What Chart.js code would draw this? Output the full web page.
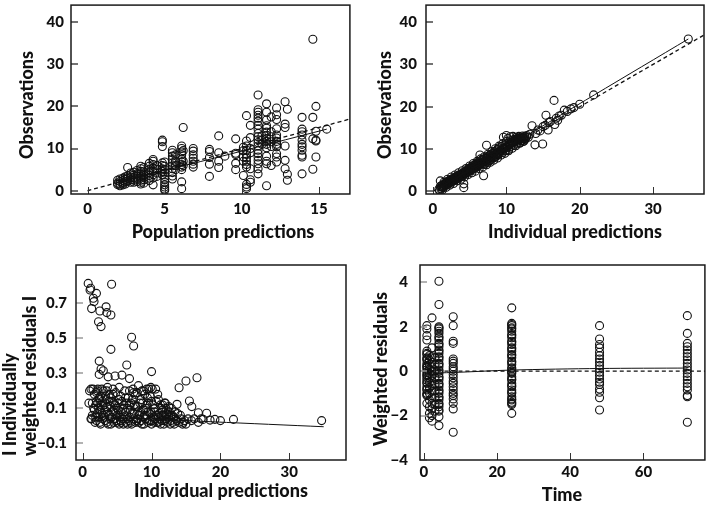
<!DOCTYPE html>
<html>
<head>
<meta charset="utf-8">
<script src="https://cdn.jsdelivr.net/npm/chart.js@4.4.1/dist/chart.umd.min.js"></script>
<style>
  body { margin: 0; background: #ffffff; }
  #wrap { position: relative; width: 710px; height: 507px; }
  canvas { position: absolute; }
</style>
</head>
<body>
<div id="wrap">
  <canvas id="popChart" width="355" height="250" style="left:0;top:0"></canvas>
  <canvas id="ipredChart" width="355" height="250" style="left:355px;top:0"></canvas>
  <canvas id="iwresChart" width="355" height="257" style="left:0;top:250px"></canvas>
  <canvas id="wresChart" width="355" height="257" style="left:355px;top:250px"></canvas>
</div>
<script>
// ---- top left: population predictions vs observations (columns of PRED)
const popPredColumns = [1.95, 2.1, 2.3, 2.45, 2.6, 2.8, 3.0, 3.2, 3.45, 3.65, 4.0, 4.25, 4.5, 4.85, 5.0, 5.5, 5.7, 6.1, 6.2, 6.85, 7.9, 8.5, 8.9, 9.6, 10.1, 10.3, 10.55, 11.05, 11.3, 11.6, 11.9, 12.25, 12.8, 12.95, 13.9, 14.6, 14.8, 15.5];
const popObsByColumn = [
  [2.5, 1.8, 1.5],
  [2.2, 1.6, 2.8, 1.2],
  [3.0, 2.4, 1.8, 1.4, 2.0],
  [3.3, 2.7, 2.1, 1.6],
  [3.5, 2.9, 2.3, 5.5],
  [3.8, 3.2, 2.6, 2.0, 4.2],
  [4.4, 3.7, 3.1, 2.5, 2.0],
  [4.8, 4.0, 3.4, 2.8, 2.2],
  [5.8, 5.2, 4.6, 4.0, 3.5, 3.0, 2.5, 2.0, 1.6],
  [5.5, 4.5, 3.8, 3.2, 2.6, 1.8],
  [6.5, 5.8, 5.0, 4.3, 3.6, 3.0, 2.4],
  [7.4, 7.0, 6.2, 5.3, 4.6, 3.8, 3.0, 1.4],
  [6.0, 5.0, 4.2, 3.4],
  [12.0, 11.6, 10.5, 6.6, 6.0, 5.2, 4.6, 3.8],
  [6.8, 5.8, 5.0, 4.2, 3.4, 2.7, 2.0, 1.4, 0.9, 0.4, 0.1],
  [9.6, 9.0, 8.2, 7.4, 6.6, 5.9, 5.2, 4.3, 3.5, 2.8],
  [8.5, 7.0, 6.0, 5.0],
  [10.6, 10.0, 9.2, 8.5, 7.5, 6.8, 6.2, 5.6, 5.0, 2.1, 0.5],
  [15.0, 9.5, 7.0, 6.0],
  [10.0, 9.4, 8.5, 7.7, 7.0, 6.3, 5.6],
  [9.8, 9.3, 7.9, 6.3, 3.4],
  [13.0, 9.0, 7.0, 5.5],
  [8.2],
  [12.3, 8.9, 8.6, 6.5, 5.0],
  [10.3, 9.5, 8.0, 7.0, 3.6],
  [17.8, 11.8, 10.6, 9.6, 8.6, 7.8, 7.0, 6.2, 5.6, 1.5, 0.9, 0.5],
  [15.5, 12.6, 10.0, 9.0, 5.2, 2.6, 2.0],
  [22.7, 19.2, 18.6, 17.9, 17.2, 16.5, 15.5, 14.6, 13.6, 12.8, 12.1, 11.4, 10.6, 9.6, 8.8, 8.0, 7.2, 6.4, 5.2, 4.0],
  [13.0, 12.0, 11.0],
  [20.6, 18.6, 16.8, 15.4, 14.8, 13.9, 13.1, 12.4, 11.7, 11.0, 10.2, 8.2, 7.0, 6.4, 1.2],
  [17.5, 14.0, 12.8, 11.6, 10.5, 6.0],
  [19.6, 18.0, 16.9, 14.7, 13.2, 12.5, 11.7, 11.0, 10.4, 8.8, 8.0, 6.8],
  [21.1, 15.8, 15.0, 10.6, 7.2, 5.2],
  [19.3, 3.9, 2.5],
  [17.4, 14.6, 14.0, 13.2, 12.0, 11.0, 10.4, 9.6, 8.4, 8.0, 4.0],
  [35.9, 17.4, 12.3, 5.1],
  [20.0, 14.1, 12.0, 11.8, 8.0],
  [14.6]
];
const popSmooth = [[2, 2.2], [3.5, 3.6], [5.5, 5.3], [7.3, 6.9], [10, 9.4], [12, 11.3], [15.5, 14.6]];
const popTicksX = [0, 5, 10, 15];
const obsTicksY = [0, 10, 20, 30, 40];

// ---- top right: individual predictions vs observations
const ipredObs = [
  [0.8, 0.5], [0.9, 0.2], [1.0, 1.2], [1.0, 2.5], [1.1, 0.6], [1.2, 1.0], [1.3, 1.5], [1.4, 0.9], [1.5, 1.3], [1.6, 1.9],
  [1.7, 1.4], [1.8, 2.1], [1.9, 1.6], [2.0, 2.4], [2.1, 1.8], [2.2, 2.0], [2.3, 2.6], [2.4, 2.1], [2.5, 2.8], [2.6, 2.3],
  [2.7, 3.0], [2.8, 2.5], [2.9, 3.2], [3.0, 2.8], [3.1, 3.4], [3.2, 2.9], [3.3, 3.6], [3.4, 3.1], [3.5, 3.8], [3.6, 3.3],
  [3.7, 4.0], [3.8, 3.5], [3.9, 4.1], [4.0, 3.6], [4.1, 4.4], [4.2, 0.9], [4.2, 1.8], [4.3, 4.1], [4.4, 4.7], [4.5, 4.3],
  [4.6, 5.0], [4.7, 4.5], [4.8, 5.2], [4.9, 4.7], [5.0, 5.5], [5.1, 4.9], [5.2, 5.7], [5.3, 5.1], [5.4, 6.0], [5.5, 5.3],
  [5.6, 6.2], [5.7, 5.5], [5.8, 6.4], [5.9, 5.7], [6.0, 6.6], [6.1, 5.9], [6.2, 7.0], [6.3, 6.1], [6.4, 8.6], [6.5, 6.6],
  [6.6, 7.4], [6.7, 6.5], [6.8, 7.6], [6.9, 3.7], [7.0, 6.4], [7.1, 7.8], [7.2, 6.7], [7.3, 10.9], [7.4, 8.2], [7.5, 6.9],
  [7.6, 8.4], [7.7, 7.3], [7.8, 8.6], [7.9, 7.6], [8.0, 8.9], [8.1, 7.9], [8.2, 9.0], [8.3, 8.0], [8.4, 9.4], [8.5, 8.2],
  [8.6, 9.6], [8.7, 8.4], [8.8, 9.9], [8.9, 8.7], [9.0, 10.3], [9.1, 9.0], [9.3, 9.8], [9.4, 10.6], [9.5, 9.2], [9.6, 12.8],
  [9.7, 10.2], [9.8, 11.0], [9.9, 9.6], [10.0, 13.2], [10.0, 11.8], [10.1, 10.4], [10.2, 12.5], [10.3, 9.9], [10.4, 11.2], [10.5, 12.9],
  [10.6, 10.6], [10.7, 12.0], [10.8, 11.4], [10.9, 13.0], [11.0, 10.9], [11.1, 12.3], [11.2, 11.7], [11.3, 12.8], [11.4, 11.2], [11.5, 12.5],
  [11.6, 11.9], [11.7, 13.0], [11.8, 12.2], [11.9, 11.5], [12.0, 12.8], [12.1, 12.0], [12.2, 13.1], [12.3, 12.4], [12.4, 11.9], [12.5, 13.0],
  [12.6, 12.5], [12.8, 13.2], [13.0, 12.8], [13.2, 13.5], [13.5, 15.5], [13.9, 11.0], [14.0, 13.7], [14.3, 14.5], [14.6, 14.3], [14.95, 11.2],
  [15.0, 15.3], [15.3, 15.6], [15.4, 18.0], [15.7, 14.5], [15.8, 16.3], [16.0, 16.5], [16.5, 21.5], [16.6, 15.8], [16.8, 17.3], [17.0, 16.8],
  [17.2, 17.8], [17.5, 18.0], [17.9, 19.2], [18.3, 18.9], [18.8, 19.5], [19.2, 19.8], [20.0, 20.6], [21.9, 22.8], [34.8, 36.0],
  [1.15, 1.3], [1.35, 1.1], [1.55, 1.7], [1.75, 1.8], [1.95, 2.0], [2.15, 2.4], [2.35, 2.2], [2.55, 2.5], [2.75, 2.7], [2.95, 2.9],
  [3.15, 3.1], [3.35, 3.3], [3.55, 3.4], [3.75, 3.7], [3.95, 3.9], [4.15, 4.0], [4.35, 4.4], [4.55, 4.6], [4.75, 4.8], [4.95, 5.0],
  [5.15, 5.3], [5.35, 5.5], [5.55, 5.6], [5.75, 5.9], [5.95, 6.1], [6.15, 6.3], [6.35, 6.4], [6.55, 6.8], [6.75, 6.9], [6.95, 7.1],
  [7.15, 7.2], [7.35, 7.5], [7.55, 7.7], [7.75, 7.9], [7.95, 8.2], [8.15, 8.4], [8.35, 8.6], [8.55, 8.8], [8.75, 9.0], [8.95, 9.3],
  [9.15, 9.5], [9.35, 9.7], [9.55, 10.0], [9.75, 10.3], [9.95, 10.5], [10.15, 10.8], [10.35, 11.0], [10.55, 11.3], [10.75, 11.6], [10.95, 11.8],
  [11.15, 12.0], [11.35, 12.2], [11.55, 12.4], [11.75, 12.6], [11.95, 12.4], [12.15, 12.6], [12.35, 12.7], [12.55, 12.3], [12.75, 12.9],
  [1.3, 0.4], [1.8, 1.0], [2.3, 1.5], [2.8, 1.9], [3.3, 2.5], [3.8, 2.9], [4.3, 3.4], [4.8, 4.0], [5.3, 4.4], [5.8, 4.8],
  [6.3, 5.4], [6.8, 5.8], [7.3, 6.3], [7.8, 6.9], [8.3, 7.4], [8.8, 7.9], [9.3, 8.6], [9.8, 9.0], [10.3, 9.6], [10.8, 10.2],
  [11.3, 10.8], [11.8, 11.4], [12.3, 11.8],
  [1.5, 2.2], [2.0, 2.9], [2.5, 3.4], [3.0, 3.9], [3.5, 4.4], [4.0, 4.9], [4.5, 5.4], [5.0, 6.0], [5.5, 6.6], [6.0, 7.1],
  [6.5, 7.7], [7.0, 8.2], [7.5, 8.8], [8.0, 9.4], [8.5, 10.1], [9.0, 10.7], [9.5, 11.3]
];
const ipredSmooth = [[1, 1], [10, 10.3], [17, 17.6], [22, 22.8], [34.8, 36.0]];
const ipredTicksX = [0, 10, 20, 30];

// ---- bottom left: individual predictions vs |IWRES|
const ipredAbsIwres = [
  [0.8, 0.814], [4.2, 0.809], [1.16, 0.786], [1.07, 0.776], [2.0, 0.757], [1.55, 0.729], [1.65, 0.71], [3.4, 0.68], [1.3, 0.67], [2.5, 0.656],
  [3.5, 0.647], [4.1, 0.633], [2.3, 0.595], [2.67, 0.567], [7.1, 0.506], [7.4, 0.456], [4.1, 0.437], [2.4, 0.37], [6.4, 0.348], [2.67, 0.325],
  [3.0, 0.315], [2.4, 0.294], [3.7, 0.28], [4.7, 0.285], [5.7, 0.29], [6.8, 0.27], [10.0, 0.31], [16.6, 0.275], [15.0, 0.256], [14.0, 0.218],
  [15.5, 0.142], [15.85, 0.11], [13.7, 0.123], [16.8, 0.075], [18.0, 0.072], [21.9, 0.037], [34.7, 0.03], [20.0, 0.03], [19.2, 0.037], [18.5, 0.033],
  [17.5, 0.037],
  [1.5, 0.21], [1.7, 0.18], [1.9, 0.05], [2.0, 0.14], [2.2, 0.21], [2.3, 0.1], [2.5, 0.02], [2.6, 0.17], [2.8, 0.07], [3.0, 0.2],
  [3.1, 0.12], [3.3, 0.03], [3.4, 0.15], [3.6, 0.08], [3.7, 0.01], [3.9, 0.18], [4.0, 0.11], [4.2, 0.05], [4.3, 0.14], [4.5, 0.02],
  [4.6, 0.09], [4.8, 0.19], [5.0, 0.06], [5.1, 0.13], [5.3, 0.01], [5.5, 0.17], [5.6, 0.08], [5.8, 0.04], [6.0, 0.12], [6.1, 0.2],
  [6.3, 0.02], [6.5, 0.1], [6.6, 0.16], [6.8, 0.05], [7.0, 0.13], [7.1, 0.01], [7.3, 0.21], [7.5, 0.07], [7.6, 0.18], [7.8, 0.03],
  [8.0, 0.11], [8.1, 0.23], [8.3, 0.06], [8.5, 0.15], [8.6, 0.01], [8.8, 0.09], [9.0, 0.18], [9.1, 0.04], [9.3, 0.12], [9.5, 0.02],
  [9.6, 0.21], [9.8, 0.07], [10.0, 0.14], [10.1, 0.21], [10.3, 0.05], [10.5, 0.1], [10.6, 0.21], [10.8, 0.02], [11.0, 0.15], [11.1, 0.07],
  [11.3, 0.12], [11.5, 0.03], [11.6, 0.09], [11.8, 0.01], [12.0, 0.06], [12.1, 0.1], [12.3, 0.02], [12.5, 0.05], [12.6, 0.08], [12.8, 0.03],
  [13.0, 0.06], [13.3, 0.01], [13.5, 0.04], [13.8, 0.07], [14.0, 0.02], [14.3, 0.04], [14.5, 0.01], [14.8, 0.03], [15.0, 0.01], [15.3, 0.04],
  [15.8, 0.03], [16.2, 0.04], [16.8, 0.02], [17.2, 0.04],
  [1.6, 0.1], [1.8, 0.02], [2.1, 0.07], [2.4, 0.16], [2.7, 0.12], [2.9, 0.04], [3.2, 0.09], [3.5, 0.2], [3.8, 0.06], [4.1, 0.16],
  [4.4, 0.08], [4.7, 0.12], [4.9, 0.03], [5.2, 0.09], [5.4, 0.05], [5.7, 0.14], [5.9, 0.01], [6.2, 0.08], [6.4, 0.13], [6.7, 0.03],
  [6.9, 0.09], [7.2, 0.15], [7.4, 0.04], [7.7, 0.11], [7.9, 0.19], [8.2, 0.02], [8.4, 0.08], [8.7, 0.13], [8.9, 0.05], [9.2, 0.1],
  [9.4, 0.16], [9.7, 0.03], [9.9, 0.08], [10.2, 0.12], [10.4, 0.02], [10.7, 0.06], [10.9, 0.18], [11.2, 0.04], [11.4, 0.1], [11.7, 0.06],
  [11.9, 0.13], [12.2, 0.04], [12.4, 0.08], [12.7, 0.01], [12.9, 0.1], [13.2, 0.05],
  [1.2, 0.04], [1.4, 0.13], [2.0, 0.03], [2.5, 0.09], [3.0, 0.06], [3.5, 0.02], [4.0, 0.04], [4.5, 0.13], [5.0, 0.02], [5.5, 0.03],
  [6.0, 0.05], [6.5, 0.04], [7.0, 0.02], [7.5, 0.12], [8.0, 0.04], [8.5, 0.03], [9.0, 0.06], [9.5, 0.08], [10.0, 0.01], [10.5, 0.04],
  [11.0, 0.02], [11.5, 0.06], [12.0, 0.13], [3.3, 0.17], [2.2, 0.13], [4.8, 0.07], [6.8, 0.2], [8.8, 0.2], [9.3, 0.21], [9.9, 0.22],
  [1.0, 0.2], [1.2, 0.21], [0.9, 0.13], [1.3, 0.04],
  [1.4, 0.06], [1.7, 0.09], [2.0, 0.19], [2.3, 0.05], [2.6, 0.01], [2.9, 0.14], [3.2, 0.05], [3.5, 0.11], [3.8, 0.14], [4.1, 0.01],
  [4.4, 0.18], [4.7, 0.04], [5.0, 0.1], [5.3, 0.15], [5.6, 0.02], [5.9, 0.1], [6.2, 0.16], [6.5, 0.01], [6.8, 0.12], [7.1, 0.07],
  [7.4, 0.19], [7.7, 0.02], [8.0, 0.08], [8.3, 0.13], [8.6, 0.2], [8.9, 0.01], [9.2, 0.06], [9.5, 0.13], [9.8, 0.17], [10.1, 0.03],
  [10.4, 0.08], [10.7, 0.14], [11.0, 0.05], [11.3, 0.01], [11.6, 0.12], [11.9, 0.03], [12.2, 0.07], [12.5, 0.11], [12.8, 0.06], [13.1, 0.02],
  [13.4, 0.08], [13.7, 0.03], [14.2, 0.06], [14.6, 0.02], [2.1, 0.2], [2.8, 0.21], [3.6, 0.22], [4.4, 0.21], [5.3, 0.22], [1.9, 0.12],
  [2.5, 0.15]
];
const iwresSmooth = [[1, 0.055], [10, 0.04], [19, 0.023], [35, -0.005]];
const iwresTicksY = [-0.1, 0.1, 0.3, 0.5, 0.7];

// ---- bottom right: time vs weighted residuals
const sampleTimes = [0.8, 1.5, 2.2, 3.0, 4.1, 8.0, 24.0, 48.0, 72.0];
const wresByTime = [
  [2.05, 1.9, 1.6, 1.4, 0.9, 0.8, 0.75, 0.6, 0.55, 0.5, 0.35, 0.25, 0.2, 0.15, 0.05, -0.05, -0.15, -0.2, -0.3, -0.4, -0.5, -0.55, -0.7, -0.8, -0.85, -1.0, -1.05, -1.1, -1.45],
  [0.7, 0.5, 0.3, 0.1, -0.1, -0.3, -0.5, -0.75, -1.0, -1.3, -1.6, -1.9, -2.1],
  [2.4, 1.05, 0.65, 0.4, 0.2, 0.0, -0.2, -0.45, -0.65, -0.9, -1.2, -1.45, -1.7, -2.0, -2.25],
  [0.6, 0.3, 0.0, -0.3, -0.6, -0.9, -1.2, -1.5, -1.8],
  [4.05, 3.0, 2.0, 1.95, 1.9, 1.8, 1.7, 1.55, 1.5, 1.4, 1.25, 1.2, 1.1, 0.95, 0.9, 0.8, 0.65, 0.6, 0.5, 0.35, 0.3, 0.2, 0.05, 0.0, -0.1, -0.25, -0.3, -0.4, -0.55, -0.6, -0.7, -0.85, -0.9, -1.0, -1.15, -1.2, -1.3, -1.45, -1.5, -1.6, -1.75, -1.8, -2.05, -2.45],
  [2.45, 2.05, 1.35, 1.25, 0.55, 0.45, 0.35, 0.2, 0.1, 0.0, -0.15, -0.3, -0.45, -0.55, -0.7, -0.85, -1.0, -1.1, -1.25, -1.45, -1.7, -2.75],
  [2.85, 2.15, 2.1, 2.05, 1.95, 1.9, 1.8, 1.65, 1.6, 1.5, 1.35, 1.3, 1.2, 1.05, 1.0, 0.9, 0.75, 0.7, 0.6, 0.45, 0.4, 0.3, 0.15, 0.1, 0.0, -0.05, -0.1, -0.25, -0.35, -0.4, -0.55, -0.65, -0.7, -0.85, -0.95, -1.0, -1.15, -1.25, -1.3, -1.4, -1.45, -1.5, -1.9],
  [2.05, 1.45, 1.2, 1.05, 0.85, 0.7, 0.55, 0.4, 0.25, 0.1, -0.05, -0.2, -0.35, -0.5, -0.6, -0.8, -0.95, -1.2, -1.75],
  [2.5, 1.7, 1.25, 1.1, 0.95, 0.8, 0.65, 0.5, 0.35, 0.2, 0.05, -0.1, -0.25, -0.4, -0.55, -0.7, -0.85, -1.1, -1.15, -2.3]
];
const wresSmooth = [[0.5, -0.09], [8, -0.06], [24, 0.05], [48, 0.12], [72, 0.14]];
const timeTicksX = [0, 20, 40, 60];
const wresTicksY = [-4, -2, 0, 2, 4];

// ---------------------------------------------------------------
const FONT = 'Lato, "Open Sans", sans-serif';
const WEIGHT = 900;

function columnsToPoints(xs, ys) {
  const pts = [];
  xs.forEach((x, i) => ys[i].forEach(y => pts.push({ x: x, y: y })));
  return pts;
}
const pairsToPoints = pairs => pairs.map(p => ({ x: p[0], y: p[1] }));

// box, inward tick marks and axis titles
const panelFrame = {
  id: 'panelFrame',
  afterDatasetsDraw(chart, args, opts) {
    const ctx = chart.ctx;
    const a = chart.chartArea;
    const xs = chart.scales.x;
    const ys = chart.scales.y;
    ctx.save();
    ctx.lineWidth = 1;
    ctx.strokeStyle = opts.xTickColor;
    xs.ticks.forEach(t => {
      const px = Math.round(xs.getPixelForValue(t.value)) + 0.5;
      ctx.beginPath();
      ctx.moveTo(px, a.bottom);
      ctx.lineTo(px, a.bottom - 7);
      ctx.stroke();
    });
    ctx.strokeStyle = opts.yTickColor;
    ctx.lineWidth = 1.5;
    ys.ticks.forEach(t => {
      const py = Math.round(ys.getPixelForValue(t.value));
      ctx.beginPath();
      ctx.moveTo(a.left, py);
      ctx.lineTo(a.left + 7, py);
      ctx.stroke();
    });
    ctx.strokeStyle = '#1a1a1a';
    ctx.lineWidth = 1.5;
    ctx.strokeRect(a.left, a.top, a.right - a.left, a.bottom - a.top);

    ctx.fillStyle = '#111';
    ctx.font = WEIGHT + ' 18px ' + FONT;
    ctx.textAlign = 'center';
    ctx.textBaseline = 'middle';
    ctx.fillText(opts.xTitle, opts.xTitleAt[0], opts.xTitleAt[1]);
    ctx.translate(opts.yTitleAt[0], opts.yTitleAt[1]);
    ctx.rotate(-Math.PI / 2);
    ctx.textAlign = opts.yTitleAlign || 'center';
    opts.yTitle.forEach((line, i) => ctx.fillText(line, 0, i * 20));
    ctx.restore();
  }
};

function makePanel(id, cfg) {
  const lineSets = cfg.lines.map(l => ({
    type: 'scatter',
    data: pairsToPoints(l.data),
    showLine: true,
    borderColor: '#111',
    borderWidth: l.dash ? 1.3 : 1,
    borderDash: l.dash ? [4, 3] : [],
    pointRadius: 0,
    tension: 0.3
  }));
  const fixTicks = values => scale => { scale.ticks = values.map(v => ({ value: v })); };
  return new Chart(document.getElementById(id), {
    type: 'scatter',
    data: {
      datasets: lineSets.concat([{
        data: cfg.points,
        pointRadius: 4,
        pointBorderWidth: 1.1,
        pointBorderColor: '#111',
        pointBackgroundColor: 'rgba(0,0,0,0)'
      }])
    },
    options: {
      responsive: false,
      animation: false,
      layout: { padding: cfg.padding },
      plugins: {
        legend: { display: false },
        tooltip: { enabled: false },
        panelFrame: cfg.frame
      },
      scales: {
        x: {
          type: 'linear',
          min: cfg.xRange[0],
          max: cfg.xRange[1],
          afterBuildTicks: fixTicks(cfg.xTicks),
          afterFit: s => { s.height = cfg.xAxisHeight; s.paddingLeft = 0; s.paddingRight = 0; },
          grid: { display: false, drawTicks: false },
          border: { display: false },
          ticks: {
            color: '#111',
            padding: cfg.xLabelGap,
            maxRotation: 0,
            font: { family: FONT, size: 15, weight: WEIGHT }
          }
        },
        y: {
          type: 'linear',
          min: cfg.yRange[0],
          max: cfg.yRange[1],
          afterBuildTicks: fixTicks(cfg.yTicks),
          afterFit: s => { s.width = cfg.yAxisWidth; s.paddingTop = 0; s.paddingBottom = 0; },
          grid: { display: false, drawTicks: false },
          border: { display: false },
          ticks: {
            color: '#111',
            padding: cfg.yLabelGap,
            font: { family: FONT, size: 15, weight: WEIGHT },
            callback: v => String(v).replace('-', '\u2212')
          }
        }
      }
    },
    plugins: [panelFrame]
  });
}

document.addEventListener('DOMContentLoaded', function () {
  makePanel('popChart', {
    points: columnsToPoints(popPredColumns, popObsByColumn),
    lines: [
      { data: [[0, 0], [18, 18]], dash: true },
      { data: popSmooth, dash: false }
    ],
    xRange: [-1.07, 17.0], yRange: [-0.77, 44.0],
    xTicks: popTicksX, yTicks: obsTicksY,
    padding: { top: 1, right: 5, left: 0, bottom: 0 },
    xAxisHeight: 56, yAxisWidth: 71, yLabelGap: 7, xLabelGap: 6,
    frame: { xTitle: 'Population predictions', xTitleAt: [223, 232], yTitle: ['Observations'], yTitleAt: [27, 105], xTickColor: '#333', yTickColor: '#444' }
  });

  makePanel('ipredChart', {
    points: pairsToPoints(ipredObs),
    lines: [
      { data: [[0, 0], [38, 38]], dash: true },
      { data: ipredSmooth, dash: false }
    ],
    xRange: [-0.95, 36.94], yRange: [-0.6, 44.0],
    xTicks: ipredTicksX, yTicks: obsTicksY,
    padding: { top: 1, right: 6, left: 0, bottom: 0 },
    xAxisHeight: 56, yAxisWidth: 71, yLabelGap: 9, xLabelGap: 6,
    frame: { xTitle: 'Individual predictions', xTitleAt: [220, 232], yTitle: ['Observations'], yTitleAt: [30, 105], xTickColor: '#333', yTickColor: '#444' }
  });

  makePanel('iwresChart', {
    points: pairsToPoints(ipredAbsIwres),
    lines: [{ data: iwresSmooth, dash: false }],
    xRange: [-0.97, 38.24], yRange: [-0.195, 0.919],
    xTicks: ipredTicksX, yTicks: iwresTicksY,
    padding: { top: 15, right: 9, left: 0, bottom: 0 },
    xAxisHeight: 47, yAxisWidth: 76, yLabelGap: 9, xLabelGap: 3,
    frame: { xTitle: 'Individual predictions', xTitleAt: [221, 241], yTitle: ['I Individually', 'weighted residuals I'], yTitleAt: [10, 206], yTitleAlign: 'left', xTickColor: '#333', yTickColor: '#999' }
  });

  makePanel('wresChart', {
    points: columnsToPoints(sampleTimes, wresByTime),
    lines: [
      { data: [[-2, 0], [80, 0]], dash: true },
      { data: wresSmooth, dash: false }
    ],
    xRange: [-1.08, 76.8], yRange: [-4.0, 4.78],
    xTicks: timeTicksX, yTicks: wresTicksY,
    padding: { top: 15, right: 1, left: 0, bottom: 0 },
    xAxisHeight: 47, yAxisWidth: 65, yLabelGap: 12, xLabelGap: 3,
    frame: { xTitle: 'Time', xTitleAt: [207, 245], yTitle: ['Weighted residuals'], yTitleAt: [26, 119], xTickColor: '#333', yTickColor: '#999' }
  });
});
</script>
</body>
</html>
